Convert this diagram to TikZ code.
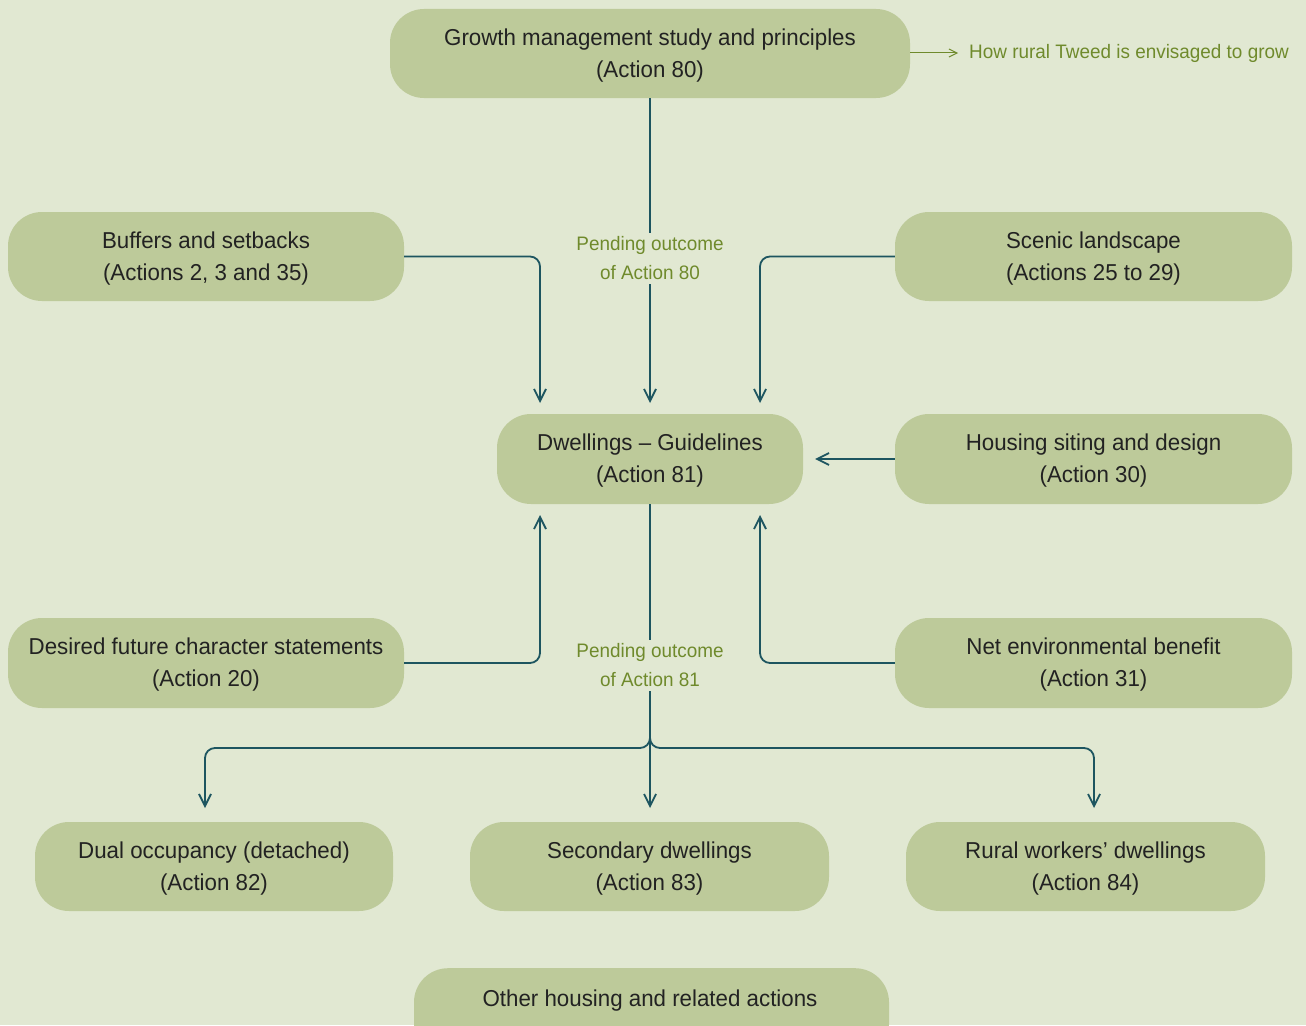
\documentclass[tikz,border=0pt]{standalone}
\usepackage{fontspec}
\setmainfont{Liberation Sans}[FakeStretch=0.97]
\usetikzlibrary{arrows.meta,calc}
\definecolor{bg}{HTML}{E1E8D2}
\definecolor{boxfill}{HTML}{BDCA9A}
\definecolor{teal}{HTML}{1D5560}
\definecolor{lgreen}{HTML}{6F8A2C}
\definecolor{txt}{HTML}{222222}
\tikzset{
  box/.style={fill=boxfill, rounded corners=34pt, inner sep=0pt, align=center,
    text=txt, font=\fontsize{23}{32}\selectfont},
  btext/.style={text=txt, align=center, font=\fontsize{23}{32}\selectfont, inner sep=0pt},
  conn/.style={draw=teal, line width=1.8pt, rounded corners=10pt,
    -{Straight Barb[length=12pt,width=12pt,line width=1.8pt]}},
  plain/.style={draw=teal, line width=1.8pt, rounded corners=10pt},
  note/.style={text=lgreen, align=center, font=\fontsize{19.5}{29}\selectfont, inner sep=4pt},
}
\begin{document}
\begin{tikzpicture}[x=1pt,y=-1pt]
\fill[bg] (0,0) rectangle (1306,1025);
\useasboundingbox (0,0) rectangle (1306,1025);
% boxes
\node[box, minimum width=520pt, minimum height=89pt] (growth) at (650,53.5) {};
\node[btext] (growthT) at ([yshift=-2pt]growth.center) {Growth management study and principles\\(Action 80)};
\node[box, minimum width=396pt, minimum height=89pt] (buffers) at (206,256.5) {};
\node[btext] (buffersT) at ([yshift=-2pt]buffers.center) {Buffers and setbacks\\(Actions 2, 3 and 35)};
\node[box, minimum width=397pt, minimum height=89pt] (scenic) at (1093.5,256.5) {};
\node[btext] (scenicT) at ([yshift=-2pt]scenic.center) {Scenic landscape\\(Actions 25 to 29)};
\node[box, minimum width=306pt, minimum height=90pt] (dwell) at (650,459) {};
\node[btext] (dwellT) at ([yshift=-2pt]dwell.center) {Dwellings -- Guidelines\\(Action 81)};
\node[box, minimum width=397pt, minimum height=90pt] (housing) at (1093.5,459) {};
\node[btext] (housingT) at ([yshift=-2pt]housing.center) {Housing siting and design\\(Action 30)};
\node[box, minimum width=396pt, minimum height=90pt] (desired) at (206,663) {};
\node[btext] (desiredT) at ([yshift=-2pt]desired.center) {Desired future character statements\\(Action 20)};
\node[box, minimum width=397pt, minimum height=90pt] (netenv) at (1093.5,663) {};
\node[btext] (netenvT) at ([yshift=-2pt]netenv.center) {Net environmental benefit\\(Action 31)};
\node[box, minimum width=358pt, minimum height=89pt] (dual) at (214,866.5) {};
\node[btext] (dualT) at ([yshift=-2pt]dual.center) {Dual occupancy (detached)\\(Action 82)};
\node[box, minimum width=359pt, minimum height=89pt] (second) at (649.5,866.5) {};
\node[btext] (secondT) at ([yshift=-2pt]second.center) {Secondary dwellings\\(Action 83)};
\node[box, minimum width=359pt, minimum height=89pt] (rural) at (1085.5,866.5) {};
\node[btext] (ruralT) at ([yshift=-2pt]rural.center) {Rural workers’ dwellings\\(Action 84)};
\node[box, minimum width=475pt, minimum height=90pt, anchor=north] (other) at (651.5,968) {};
\node[btext] (othertxt) at (650,1001) {Other housing and related actions};
% notes
\node[note] (p80) at (650,258.5) {Pending outcome\\of Action 80};
\node[note] (p81) at (650,665.5) {Pending outcome\\of Action 81};
\node[note, anchor=west, inner sep=0pt] (grow) at (969,53) {How rural Tweed is envisaged to grow};
% coordinates
\coordinate (tL) at (540,403);
\coordinate (tC) at (650,403);
\coordinate (tR) at (760,403);
\coordinate (bL) at (540,515);
\coordinate (bR) at (760,515);
\coordinate (hR) at (815,459);
\coordinate (jn) at (650,748);
\coordinate (dL) at (205,808);
\coordinate (dC) at (650,808);
\coordinate (dR) at (1094,808);
\coordinate (gE) at (958,53);
% connectors
\draw[plain] (growth.south) -- (p80.north);
\draw[conn] (p80.south) -- (tC);
\draw[conn] (buffers.east) -| (tL);
\draw[conn] (scenic.west) -| (tR);
\draw[conn] (housing.west) -- (hR);
\draw[conn] (desired.east) -| (bL);
\draw[conn] (netenv.west) -| (bR);
\draw[plain] (dwell.south) -- (p81.north);
\draw[conn] (p81.south) -- (dC);
\draw[conn] (p81.south) |- (dL |- jn) -- (dL);
\draw[conn] (p81.south) |- (dR |- jn) -- (dR);
\draw[draw=lgreen, line width=1pt, -{Straight Barb[length=8pt,width=8pt]}] (growth.east |- gE) -- (gE);
\end{tikzpicture}
\end{document}
